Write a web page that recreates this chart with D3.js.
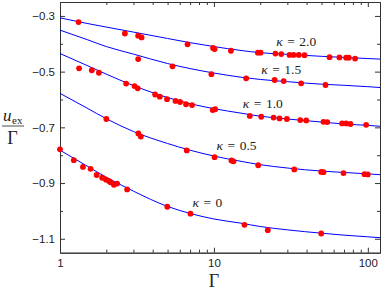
<!DOCTYPE html>
<html>
<head>
<meta charset="utf-8">
<script src="https://cdn.jsdelivr.net/npm/d3@7"></script>
<style>
    body { margin: 0; background: #fff; }
    svg { display: block; }
    .serif { font-family: "Liberation Serif", "DejaVu Serif", serif; }
    .sans { font-family: "Liberation Sans", Arial, sans-serif; }
</style>
</head>
<body>
<div id="graph"></div>
<script>
// fitted curves, sampled at these Gamma values
const fitGamma = [1, 1.5, 2, 3, 5, 7, 10, 15, 20, 30, 50, 70, 100, 120];
const fitK20 = [-0.307, -0.327, -0.340, -0.358, -0.381, -0.396, -0.410, -0.424, -0.432, -0.438, -0.445, -0.449, -0.453, -0.455];
const fitK15 = [-0.351, -0.385, -0.410, -0.437, -0.471, -0.489, -0.505, -0.520, -0.528, -0.536, -0.545, -0.549, -0.554, -0.557];
const fitK10 = [-0.435, -0.478, -0.509, -0.550, -0.593, -0.615, -0.633, -0.649, -0.660, -0.670, -0.681, -0.688, -0.693, -0.696];
const fitK05 = [-0.578, -0.631, -0.669, -0.715, -0.758, -0.782, -0.803, -0.822, -0.834, -0.846, -0.857, -0.862, -0.867, -0.870];
const fitK00 = [-0.782, -0.839, -0.879, -0.929, -0.984, -1.009, -1.029, -1.044, -1.056, -1.068, -1.080, -1.087, -1.093, -1.096];

// simulation points [Gamma, u_ex/Gamma]
const simK20 = [[1.32, -0.322], [2.64, -0.363], [3.22, -0.371], [3.39, -0.377], [6.74, -0.402], [9.87, -0.415], [10.1, -0.419],
    [12.9, -0.425], [19.3, -0.432], [20.1, -0.432], [25.1, -0.435], [27.4, -0.437], [31.0, -0.440], [32.9, -0.440], [35.6, -0.440],
    [38.8, -0.441], [56.4, -0.448], [65.4, -0.449], [72.3, -0.450], [75.2, -0.450], [82.7, -0.453]];
const simK15 = [[3.22, -0.455], [5.38, -0.481], [9.63, -0.509], [16.2, -0.524], [24.8, -0.530], [28.4, -0.534], [36.9, -0.542], [53.1, -0.548]];
const simK10 = [[1.33, -0.488], [1.61, -0.495], [1.79, -0.504], [2.69, -0.543], [3.05, -0.552], [3.20, -0.560], [4.15, -0.582],
    [4.45, -0.590], [4.96, -0.599], [5.63, -0.605], [6.03, -0.609], [6.59, -0.617], [7.21, -0.620], [9.82, -0.638], [10.2, -0.635],
    [17.1, -0.659], [20.3, -0.662], [24.4, -0.665], [26.7, -0.668], [29.8, -0.670], [36.4, -0.674], [39.8, -0.675], [51.5, -0.680],
    [54.5, -0.681], [68.1, -0.686], [72.3, -0.686], [77.1, -0.688], [97.5, -0.691]];
const simK05 = [[2.00, -0.670], [3.23, -0.722], [3.35, -0.733], [6.66, -0.783], [10.1, -0.807], [13.0, -0.819], [13.4, -0.822],
    [19.4, -0.836], [33.3, -0.851], [49.8, -0.860], [51.5, -0.861], [69.5, -0.864], [95.1, -0.868], [99.9, -0.869]];
const simK00 = [[1.0, -0.779], [1.23, -0.818], [1.41, -0.842], [1.58, -0.849], [1.73, -0.871], [1.88, -0.881], [1.99, -0.888],
    [2.08, -0.893], [2.13, -0.897], [2.24, -0.906], [2.35, -0.902], [2.73, -0.923], [4.98, -0.985], [7.04, -1.010], [15.8, -1.050],
    [22.4, -1.069], [49.8, -1.081]];

const kappaLabels = ["2.0", "1.5", "1.0", "0.5", "0"];

const xMajor = [1, 10, 100];
const xMinor = [2, 3, 4, 5, 6, 7, 8, 9, 20, 30, 40, 50, 60, 70, 80, 90];
const yMajor = [-0.3, -0.5, -0.7, -0.9, -1.1];
const yMinor = [-0.4, -0.6, -0.8, -1.0];

(function () {
    let width = 382, height = 291;
    let margin = {top: 2, right: 2, bottom: 38.3, left: 60};

    let svg = d3.select("#graph")
        .append("svg")
        .attr("width", width)
        .attr("height", height);

    let x = d3.scaleLog()
        .domain([1, 120])
        .range([margin.left, width - margin.right]);
    let y = d3.scaleLinear()
        .domain([-1.15, -0.25])
        .range([height - margin.bottom, margin.top]);

    let axisColor = "#333";
    let fmt = d3.format(".1f");

    // frame + inward ticks on all four sides
    function drawAxis(axis, transform, labels) {
        let g = svg.append("g")
            .attr("transform", transform)
            .call(axis);
        g.attr("font-family", null).attr("font-size", null);
        g.select(".domain").attr("stroke", axisColor).attr("stroke-width", 1);
        g.selectAll(".tick line").attr("stroke", axisColor);
        g.selectAll("text")
            .attr("class", "sans")
            .style("font-size", "11.5px")
            .attr("fill", "#222");
        if (!labels) g.selectAll("text").remove();
        return g;
    }

    let bottomY = height - margin.bottom, rightX = width - margin.right;

    drawAxis(d3.axisBottom(x).tickValues(xMinor).tickSize(-3).tickSizeOuter(0), `translate(0,${bottomY})`, false);
    drawAxis(d3.axisBottom(x).tickValues(xMajor).tickSize(-5).tickSizeOuter(0).tickPadding(6.5).tickFormat(d3.format("d")), `translate(0,${bottomY})`, true);
    drawAxis(d3.axisTop(x).tickValues(xMinor).tickSize(-3).tickSizeOuter(0), `translate(0,${margin.top})`, false);
    drawAxis(d3.axisTop(x).tickValues(xMajor).tickSize(-5).tickSizeOuter(0), `translate(0,${margin.top})`, false);

    drawAxis(d3.axisLeft(y).tickValues(yMinor).tickSize(-3).tickSizeOuter(0), `translate(${margin.left},0)`, false);
    drawAxis(d3.axisLeft(y).tickValues(yMajor).tickSize(-5).tickSizeOuter(0).tickPadding(5).tickFormat(fmt), `translate(${margin.left},0)`, true);
    drawAxis(d3.axisRight(y).tickValues(yMinor).tickSize(-3).tickSizeOuter(0), `translate(${rightX},0)`, false);
    drawAxis(d3.axisRight(y).tickValues(yMajor).tickSize(-5).tickSizeOuter(0), `translate(${rightX},0)`, false);

    // fit curves
    let line = d3.line()
        .x(d => x(d[0]))
        .y(d => y(d[1]))
        .curve(d3.curveMonotoneX);

    let fits = [fitK20, fitK15, fitK10, fitK05, fitK00];
    svg.append("g")
        .selectAll("path")
        .data(fits)
        .join("path")
        .attr("d", d => line(fitGamma.map((g, i) => [g, d[i]])))
        .attr("fill", "none")
        .attr("stroke", "#0000ff")
        .attr("stroke-width", 1);

    // simulation points
    let sims = [simK20, simK15, simK10, simK05, simK00];
    svg.append("g")
        .selectAll("g")
        .data(sims)
        .join("g")
        .selectAll("circle")
        .data(d => d)
        .join("circle")
        .attr("cx", d => x(d[0]))
        .attr("cy", d => y(d[1]))
        .attr("r", 2.9)
        .attr("fill", "#ff0000");

    // kappa labels (anchored in data coords)
    let labelAt = [[25.4, -0.408], [20.3, -0.509], [15.4, -0.631], [10.4, -0.783], [7.25, -0.985]];
    let lab = svg.append("g")
        .attr("fill", "#222")
        .selectAll("text")
        .data(kappaLabels)
        .join("text")
        .attr("class", "serif")
        .style("font-size", "13.5px")
        .attr("x", (d, i) => x(labelAt[i][0]))
        .attr("y", (d, i) => y(labelAt[i][1]));
    lab.append("tspan").style("font-style", "italic").text("κ");
    lab.append("tspan").attr("dx", 4.5).text("=");
    lab.append("tspan").attr("dx", 4.5).text(d => d);

    // axis titles
    svg.append("text")
        .attr("class", "serif")
        .attr("x", x(10))
        .attr("y", 286.5)
        .attr("text-anchor", "middle")
        .style("font-size", "18px")
        .attr("fill", "#222")
        .text("Γ");

    let yl = svg.append("g").attr("fill", "#222");
    yl.append("text")
        .attr("class", "serif")
        .attr("x", 3)
        .attr("y", 120.5)
        .style("font-size", "17px")
        .style("font-style", "italic")
        .text("u");
    yl.append("text")
        .attr("class", "serif")
        .attr("x", 12)
        .attr("y", 124)
        .style("font-size", "11px")
        .text("ex");
    yl.append("line")
        .attr("x1", 2).attr("x2", 24)
        .attr("y1", 126).attr("y2", 126)
        .attr("stroke", "#222")
        .attr("stroke-width", 0.8);
    yl.append("text")
        .attr("class", "serif")
        .attr("x", 12.5)
        .attr("y", 144)
        .attr("text-anchor", "middle")
        .style("font-size", "18px")
        .text("Γ");
})();
</script>
</body>
</html>
